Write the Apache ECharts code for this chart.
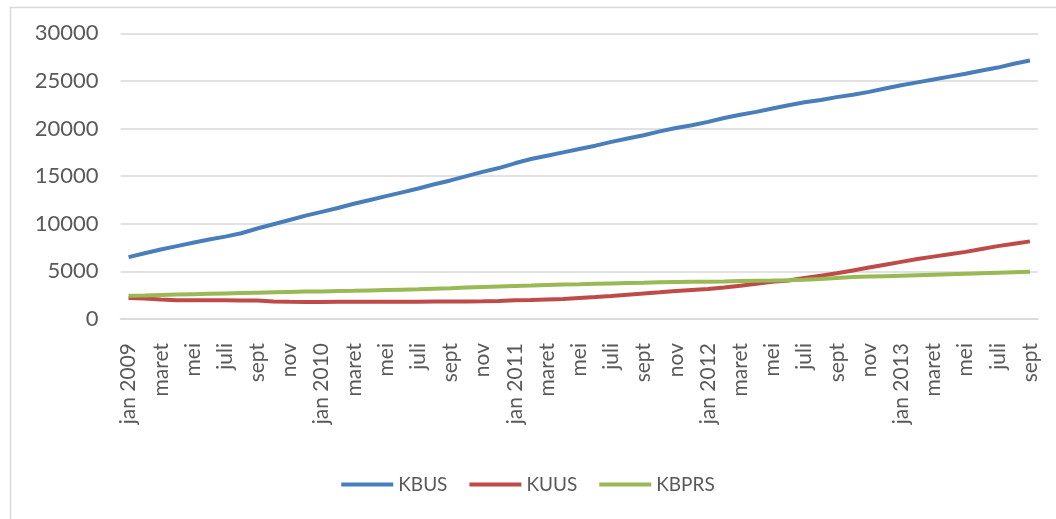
<!DOCTYPE html>
<html>
<head>
<meta charset="utf-8">
<script src="https://cdn.jsdelivr.net/npm/echarts@6/dist/echarts.min.js"></script>
<style>
html,body{margin:0;padding:0;background:#fff;}
#chart{width:1056px;height:519px;}
</style>
</head>
<body>
<div id="chart"></div>
<script>
const months = ["jan 2009","feb","maret","april","mei","juni","juli","agust","sept","okt","nov","des",
  "jan 2010","feb","maret","april","mei","juni","juli","agust","sept","okt","nov","des",
  "jan 2011","feb","maret","april","mei","juni","juli","agust","sept","okt","nov","des",
  "jan 2012","feb","maret","april","mei","juni","juli","agust","sept","okt","nov","des",
  "jan 2013","feb","maret","april","mei","juni","juli","agust","sept"];

const kbus = [6500,6900,7300,7650,8000,8350,8650,9000,9500,9950,10400,10850,
  11250,11650,12100,12500,12900,13300,13700,14150,14550,15000,15450,15850,
  16350,16800,17150,17500,17850,18200,18600,18950,19300,19700,20050,20350,
  20700,21100,21450,21750,22100,22450,22750,23000,23300,23550,23850,24200,
  24550,24850,25150,25450,25750,26100,26400,26800,27150];

const kuus = [2200,2150,2050,1980,1970,1970,1960,1950,1930,1850,1800,1790,
  1790,1800,1800,1810,1800,1800,1820,1830,1830,1850,1870,1900,
  1960,2000,2050,2100,2200,2300,2420,2550,2680,2800,2950,3050,
  3150,3300,3500,3700,3900,4050,4300,4550,4800,5100,5400,5700,
  6000,6300,6550,6800,7050,7350,7650,7900,8150];

const kbprs = [2450,2480,2520,2560,2600,2640,2680,2720,2760,2800,2840,2880,
  2900,2930,2960,3000,3040,3080,3120,3180,3230,3300,3360,3420,
  3470,3520,3580,3620,3650,3700,3740,3780,3810,3850,3880,3900,
  3920,3950,3990,4010,4030,4060,4120,4200,4300,4400,4450,4500,
  4550,4600,4650,4700,4750,4800,4850,4900,4950];

const seriesNames = ["KBUS","KUUS","KBPRS"];
const colors = ["#4A7EBB","#BE4B48","#98B954"];
const font = "Lato, 'Open Sans', sans-serif";

const chart = echarts.init(document.getElementById('chart'));
chart.setOption({
  animation: false,
  backgroundColor: '#fff',
  color: colors,
  graphic: [{
    type: 'rect', left: 8, top: 5, silent: true,
    shape: { width: 1100, height: 600 },
    style: { fill: 'none', stroke: '#D9D9D9', lineWidth: 1.5 }
  }],
  grid: { left: 120.5, right: 18, top: 33.3, bottom: 200 },
  legend: {
    bottom: 20, left: 'center',
    itemWidth: 52, itemHeight: 4, itemGap: 22,
    icon: 'rect',
    textStyle: { fontFamily: font, fontSize: 19, color: '#595959' },
    data: seriesNames
  },
  xAxis: {
    type: 'category',
    data: months,
    boundaryGap: true,
    axisLine: { lineStyle: { color: '#D9D9D9', width: 1.5 } },
    axisTick: { show: false },
    axisLabel: {
      interval: 1, rotate: 90, margin: 24,
      fontFamily: font, fontSize: 21, color: '#595959'
    }
  },
  yAxis: {
    type: 'value', min: 0, max: 30000, interval: 5000,
    axisLine: { show: false }, axisTick: { show: false },
    splitLine: { lineStyle: { color: '#D9D9D9', width: 1.5 } },
    axisLabel: { margin: 22, fontFamily: font, fontSize: 22, color: '#595959',
      formatter: function (v) { return String(v); } }
  },
  series: [
    { name: seriesNames[0], type: 'line', data: kbus, showSymbol: false, lineStyle: { width: 4 } },
    { name: seriesNames[1], type: 'line', data: kuus, showSymbol: false, lineStyle: { width: 4 } },
    { name: seriesNames[2], type: 'line', data: kbprs, showSymbol: false, lineStyle: { width: 4 } }
  ]
});
</script>
</body>
</html>
